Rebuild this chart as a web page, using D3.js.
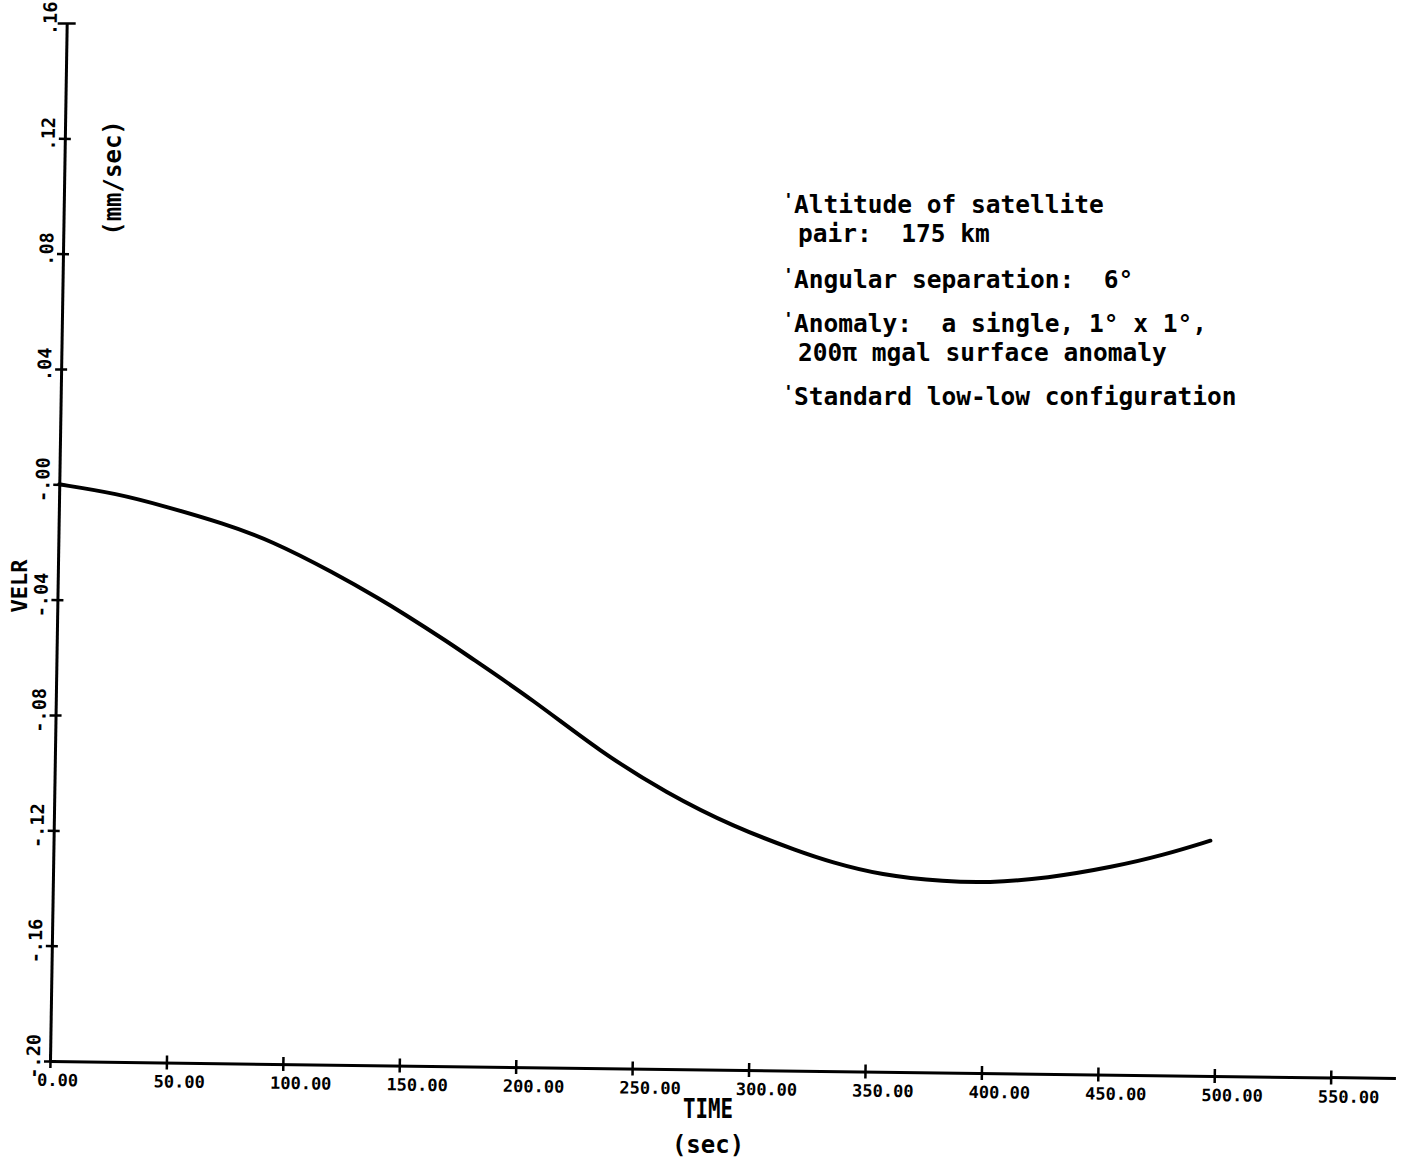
<!DOCTYPE html>
<html>
<head>
<meta charset="utf-8">
<script src="https://cdn.jsdelivr.net/npm/d3@7"></script>
<style>
  body { margin: 0; background: #fff; }
  text { font-family: "DejaVu Sans Mono", monospace; font-weight: bold; fill: #000; white-space: pre; }
</style>
</head>
<body>
<svg width="1408" height="1165"></svg>
<script>
// VELR (mm/sec) against TIME (sec)
var timeSec = [0, 24.7, 46.3, 70.7, 90.9, 118.3, 139.9, 147.2, 168.9, 176.2, 205.1, 234.1,
               263.0, 291.8, 320.6, 333.6, 355.2, 383.9, 401.0, 426.8, 455.3, 476.7, 496.7];
var velr = [0.0000, -0.0029, -0.0073, -0.0128, -0.0184, -0.0293, -0.0390, -0.0425, -0.0534, -0.0574,
            -0.0727, -0.0903, -0.1044, -0.1157, -0.1241, -0.1274, -0.1318, -0.1338, -0.1340, -0.1322,
            -0.1279, -0.1236, -0.1184];

var xTicks = [0, 50, 100, 150, 200, 250, 300, 350, 400, 450, 500, 550];
var xTickLabels = ["0.00", "50.00", "100.00", "150.00", "200.00", "250.00", "300.00",
                   "350.00", "400.00", "450.00", "500.00", "550.00"];
var yTicks = [0.16, 0.12, 0.08, 0.04, 0, -0.04, -0.08, -0.12, -0.16, -0.20];
var yTickLabels = [".16", ".12", ".08", ".04", "-.00", "-.04", "-.08", "-.12", "-.16", "-.20"];

var noteLines = ["Altitude of satellite", "pair:  175 km", "Angular separation:  6°",
                 "Anomaly:  a single, 1° x 1°,", "200π mgal surface anomaly",
                 "Standard low-low configuration"];
var noteBullet = [true, false, true, true, false, true];

var svg = d3.select("svg");

var x = d3.scaleLinear().domain([0, 550]).range([0, 1280.7]),
    y = d3.scaleLinear().domain([-0.20, 0.16]).range([0, -1038]);

// the scanned plot is a little skewed, so the whole frame is too
var g = svg.append("g")
    .attr("transform", "matrix(1,0.01296,-0.01609,1,50,1061)");

var xAxis = g.append("g")
    .call(d3.axisBottom(x)
      .tickValues(xTicks)
      .tickSize(7)
      .tickSizeOuter(0)
      .tickFormat(function(d, i) { return xTickLabels[i]; }));

xAxis.attr("font-size", null).attr("font-family", null);
xAxis.select(".domain").attr("stroke-width", 3).attr("stroke", "#000");
xAxis.selectAll(".tick line").attr("y1", -7).attr("stroke-width", 2.5);
xAxis.selectAll(".tick text")
    .attr("x", -13)
    .attr("y", 25)
    .attr("dy", null)
    .attr("text-anchor", "start")
    .style("font-size", "17px");

// axis runs on past the last tick
xAxis.append("line")
    .attr("x1", x(550))
    .attr("x2", x(578))
    .attr("stroke", "#000")
    .attr("stroke-width", 3);

var yAxis = g.append("g")
    .call(d3.axisLeft(y)
      .tickValues(yTicks)
      .tickSize(6)
      .tickSizeOuter(0)
      .tickFormat(function(d, i) { return yTickLabels[i]; }));

yAxis.attr("font-size", null).attr("font-family", null);
yAxis.select(".domain").attr("stroke-width", 3).attr("stroke", "#000");
yAxis.selectAll(".tick line")
    .attr("x1", function(d) { return d === 0.16 ? 9 : 6; })
    .attr("x2", function(d) { return d === 0.16 ? -9 : -6; })
    .attr("stroke-width", 2.5);
yAxis.selectAll(".tick text")
    .attr("transform", "rotate(-90)")
    .attr("x", 5)
    .attr("y", -10)
    .attr("dy", null)
    .attr("text-anchor", "middle")
    .style("font-size", "18.5px");

var line = d3.line()
    .x(function(d, i) { return x(timeSec[i]); })
    .y(function(d) { return y(d); })
    .curve(d3.curveBasis);

g.append("path")
    .datum(velr)
    .attr("fill", "none")
    .attr("stroke", "#000")
    .attr("stroke-width", 4)
    .attr("stroke-linejoin", "round")
    .attr("stroke-linecap", "round")
    .attr("d", line);

// axis titles
svg.append("text")
    .attr("x", 708)
    .attr("y", 1118)
    .attr("text-anchor", "middle")
    .attr("textLength", 50)
    .attr("lengthAdjust", "spacingAndGlyphs")
    .style("font-size", "27px")
    .text("TIME");

svg.append("text")
    .attr("x", 708)
    .attr("y", 1153)
    .attr("text-anchor", "middle")
    .style("font-size", "24px")
    .text("(sec)");

svg.append("text")
    .attr("transform", "translate(27,586) rotate(-90)")
    .attr("text-anchor", "middle")
    .style("font-size", "22px")
    .text("VELR");

svg.append("text")
    .attr("transform", "translate(121,178) rotate(-90)")
    .attr("text-anchor", "middle")
    .style("font-size", "24px")
    .text("(mm/sec)");

// notes block
var noteBase = [213, 242, 288, 332, 361, 405];

var notes = svg.append("g");
notes.selectAll(".note")
  .data(noteLines)
  .enter().append("text")
    .attr("class", "note")
    .attr("x", function(d, i) { return noteBullet[i] ? 794 : 798; })
    .attr("y", function(d, i) { return noteBase[i]; })
    .style("font-size", "24.5px")
    .text(function(d) { return d; });

notes.selectAll(".bullet")
  .data(noteLines.filter(function(d, i) { return noteBullet[i]; }))
  .enter().append("text")
    .attr("class", "bullet")
    .attr("x", 783)
    .attr("y", function(d) { return noteBase[noteLines.indexOf(d)] - 7; })
    .style("font-size", "18px")
    .text("'");
</script>
</body>
</html>
